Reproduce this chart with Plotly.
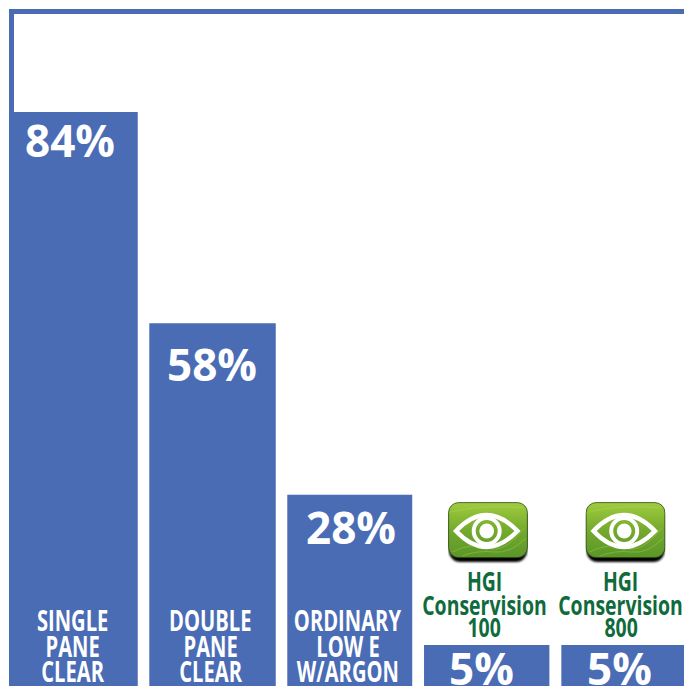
import base64
import plotly.graph_objects as go

W, H = 684, 687
categories = ["SINGLE PANE CLEAR", "DOUBLE PANE CLEAR", "ORDINARY LOW E W/ARGON",
              "HGI Conservision 100", "HGI Conservision 800"]
percent_labels = ["84%", "58%", "28%", "5%", "5%"]
drawn_heights = [84, 53.1, 28, 6, 6]
white_labels = [["SINGLE", "PANE", "CLEAR"], ["DOUBLE", "PANE", "CLEAR"], ["ORDINARY", "LOW E", "W/ARGON"]]
green_labels = [["HGI", "Conservision", "100"], ["HGI", "Conservision", "800"]]

BLUE = "#4a6cb5"
GREEN = "#0f6a3c"
FONT = "Open Sans"
ML, MT, MR, MB = 14, 14, 0, 1

offsets = [-0.473, -0.448, -0.443, -0.447, -0.447]
widths = [0.941, 0.921, 0.910, 0.913, 0.93]

fig = go.Figure(go.Bar(x=list(range(5)), y=drawn_heights, width=widths, offset=offsets,
                       marker=dict(color=BLUE, line=dict(width=0)), hovertext=categories, hoverinfo="text"))


def px(x):
    return (x - ML) / (W - ML - MR)


def py(y):
    return 1 - (y - MT) / (H - MT - MB)


def label(text, x, y, size, color):
    fig.add_annotation(text=f"<b>{text}</b>", x=px(x), y=py(y), xref="paper", yref="paper",
                       xanchor="center", yanchor="middle", showarrow=False,
                       font=dict(size=size, color=color, family=FONT))


pct_pos = [(70, 140), (212, 364), (351, 527), (481, 668), (619, 668)]
for t, (x, y) in zip(percent_labels, pct_pos):
    label(t, x, y, 44, "white")

for lines, x in zip(white_labels, [72.5, 210.5, 347.5]):
    for t, y in zip(lines, [619.5, 646, 671]):
        label(t, x, y, 28, "white")

for lines, x in zip(green_labels, [484, 620.5]):
    for t, y in zip(lines, [580, 604, 626]):
        label(t, x, y, 27, GREEN)

svg = """<svg xmlns='http://www.w3.org/2000/svg' width='320' height='248' viewBox='0 0 80 62'>
<defs><linearGradient id='g' x1='0' y1='0' x2='0' y2='1'>
<stop offset='0' stop-color='#a0cc3e'/><stop offset='0.5' stop-color='#74aa2d'/><stop offset='1' stop-color='#5a9628'/></linearGradient>
<filter id='b'><feGaussianBlur stdDeviation='1'/></filter></defs>
<rect x='1' y='4' width='78' height='56' rx='11' fill='#050503' filter='url(#b)'/>
<rect x='0.6' y='0.6' width='78.8' height='55' rx='10' fill='url(#g)' stroke='#2c4a12' stroke-width='0.8'/>
<g fill='none' stroke='#b7dd62' stroke-opacity='0.5' stroke-width='0.7'>
<path d='M4 50 Q24 40 40 46 T76 26'/><path d='M14 54 Q30 48 46 50 T78 36'/><path d='M3 10 Q20 6 38 5 T76 6'/></g>
<path d='M8 29 Q23 13 38.7 13 Q54 13 69.5 29 Q54 45 38.7 45 Q23 45 8 29 Z' fill='none' stroke='white' stroke-width='4.4' stroke-miterlimit='8'/>
<circle cx='38.7' cy='29' r='13' fill='none' stroke='white' stroke-width='4'/>
<circle cx='38.7' cy='29' r='7.4' fill='white'/>
</svg>"""
uri = "data:image/svg+xml;base64," + base64.b64encode(svg.encode()).decode()
for left in (448, 585.5):
    fig.add_layout_image(source=uri, xref="paper", yref="paper", x=px(left), y=py(502),
                         sizex=80 / (W - ML - MR), sizey=62 / (H - MT - MB),
                         xanchor="left", yanchor="top", sizing="stretch", layer="above")

fig.update_layout(
    width=W, height=H, margin=dict(l=ML, r=MR, t=MT, b=MB, pad=0),
    paper_bgcolor="white", plot_bgcolor="white", showlegend=False,
    xaxis=dict(range=[-0.4334, 4.4464], side="top", showline=True, linecolor=BLUE, linewidth=5,
               showticklabels=False, ticks="", showgrid=False, zeroline=False),
    yaxis=dict(range=[0, 98.35], showline=True, linecolor=BLUE, linewidth=5,
               showticklabels=False, ticks="", showgrid=False, zeroline=False),
)

post = """
document.body.style.margin = '0';
document.documentElement.style.overflow = 'hidden';
document.querySelectorAll('.annotation-text').forEach(function (el) {
  if (el.textContent.indexOf('%') >= 0) return;
  var n = el.getComputedTextLength();
  el.setAttribute('textLength', n * 0.72);
  el.setAttribute('lengthAdjust', 'spacingAndGlyphs');
});
"""
fig.write_html("out.html", config=dict(displayModeBar=False), post_script=post)
